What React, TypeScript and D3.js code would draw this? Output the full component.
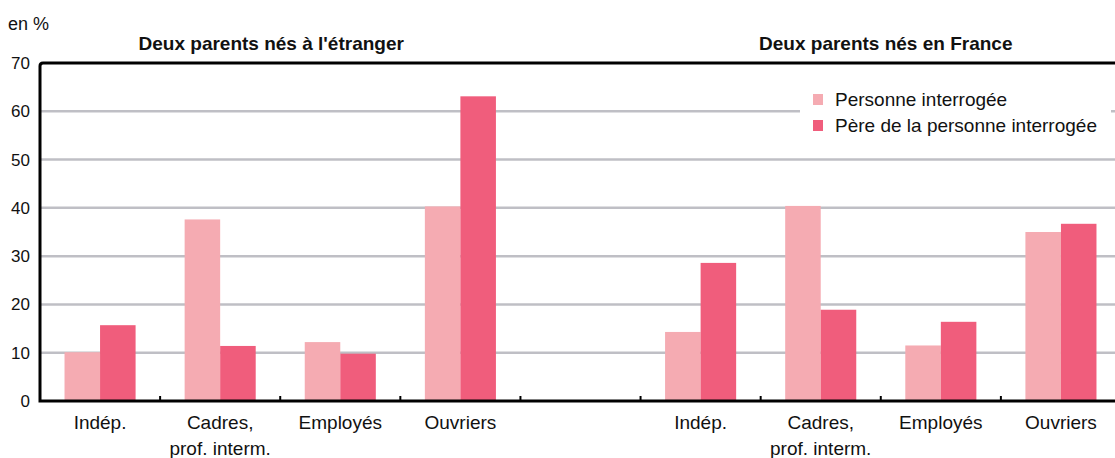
import { useEffect, useRef } from 'react';
import * as d3 from 'd3';

const categories = ['Indép.', 'Cadres,|prof. interm.', 'Employés', 'Ouvriers'];
const series = ['Personne interrogée', 'Père de la personne interrogée'];
const panels = ["Deux parents nés à l'étranger", 'Deux parents nés en France'];
// panel 1 : deux parents nés à l'étranger
const etrangerPersonne = [10.1, 37.6, 12.2, 40.3];
const etrangerPere = [15.7, 11.4, 9.8, 63.1];
// panel 2 : deux parents nés en France
const francePersonne = [14.3, 40.4, 11.5, 35.0];
const francePere = [28.6, 18.9, 16.4, 36.7];
const yTicks = [0, 10, 20, 30, 40, 50, 60, 70];

const COLORS = ['#f5abb2', '#f05d7c'];
const FONT = '"Liberation Sans", Arial, sans-serif';

export default function App() {
  const svgRef = useRef<SVGSVGElement>(null);

  useEffect(() => {
    const svg = d3.select(svgRef.current);
    svg.selectAll('*').remove();

    const W = 1115, H = 458;
    const left = 40, top = 63, bottom = 401, right = 1121;

    // 9 bands: 4 categories, an empty gap, 4 categories
    const keys = [...categories.map(c => 'e|' + c), 'gap', ...categories.map(c => 'f|' + c)];
    const x = d3.scaleBand<string>().domain(keys).range([left, right]).padding(0);
    const xs = d3.scaleBand<string>().domain(series).range([0, x.bandwidth()]).paddingInner(0).paddingOuter(0.69);
    const y = d3.scaleLinear().domain([0, 70]).range([bottom, top]);

    const rows: { key: string; s: string; v: number }[] = [];
    categories.forEach((c, i) => {
      rows.push({ key: 'e|' + c, s: series[0], v: etrangerPersonne[i] });
      rows.push({ key: 'e|' + c, s: series[1], v: etrangerPere[i] });
      rows.push({ key: 'f|' + c, s: series[0], v: francePersonne[i] });
      rows.push({ key: 'f|' + c, s: series[1], v: francePere[i] });
    });

    const g = svg.append('g').attr('font-family', FONT);

    // Grid lines
    yTicks.filter(t => t > 0 && t < 70).forEach(t => {
      g.append('line')
        .attr('x1', left).attr('x2', W)
        .attr('y1', y(t)).attr('y2', y(t))
        .attr('stroke', '#bfbfc5').attr('stroke-width', 2.5);
    });

    // Bars
    g.selectAll('rect.bar')
      .data(rows)
      .join('rect')
      .attr('class', 'bar')
      .attr('x', d => (x(d.key) ?? 0) + (xs(d.s) ?? 0))
      .attr('y', d => y(d.v))
      .attr('width', xs.bandwidth())
      .attr('height', d => y(0) - y(d.v))
      .attr('fill', d => (d.s === series[0] ? COLORS[0] : COLORS[1]));

    // Frame: left, top, bottom
    g.append('path')
      .attr('d', `M${W},${top} L${left + 3},${top} Q${left},${top} ${left},${top + 3} L${left},${bottom} L${W},${bottom}`)
      .attr('fill', 'none').attr('stroke', '#000').attr('stroke-width', 3);

    // Small ticks between bands
    keys.slice(1).forEach(k => {
      g.append('line')
        .attr('x1', x(k) ?? 0).attr('x2', x(k) ?? 0)
        .attr('y1', bottom).attr('y2', bottom - 5)
        .attr('stroke', '#000').attr('stroke-width', 2);
    });

    // Y tick labels
    yTicks.forEach(t => {
      g.append('text')
        .attr('x', 30).attr('y', y(t) + 6)
        .attr('text-anchor', 'end')
        .attr('font-size', 17).attr('fill', '#111')
        .text(t);
    });

    g.append('text')
      .attr('x', 8).attr('y', 30)
      .attr('font-size', 18).attr('fill', '#111')
      .text('en %');

    // Panel titles
    const panelCenters = [
      ((x(keys[0]) ?? 0) + (x(keys[3]) ?? 0) + x.bandwidth()) / 2 - 9,
      ((x(keys[5]) ?? 0) + (x(keys[8]) ?? 0) + x.bandwidth()) / 2 + 5,
    ];
    panels.forEach((p, i) => {
      g.append('text')
        .attr('x', panelCenters[i]).attr('y', 50)
        .attr('text-anchor', 'middle')
        .attr('font-size', 19).attr('font-weight', 'bold').attr('fill', '#111')
        .text(p);
    });

    // Category labels
    keys.filter(k => k !== 'gap').forEach(k => {
      const lines = k.split('|').slice(1);
      const cx = (x(k) ?? 0) + x.bandwidth() / 2;
      lines.forEach((l, j) => {
        g.append('text')
          .attr('x', cx).attr('y', 429 + j * 26)
          .attr('text-anchor', 'middle')
          .attr('font-size', 19).attr('fill', '#111')
          .text(l);
      });
    });

    // Legend
    const lg = g.append('g');
    lg.append('rect')
      .attr('x', 800).attr('y', 86).attr('width', 311).attr('height', 50)
      .attr('fill', '#fff');
    series.forEach((s, i) => {
      lg.append('rect')
        .attr('x', 813).attr('y', 94 + i * 26).attr('width', 10).attr('height', 11)
        .attr('fill', COLORS[i]);
      lg.append('text')
        .attr('x', 835).attr('y', 106 + i * 26)
        .attr('font-size', 19).attr('fill', '#111')
        .text(s);
    });

    svg.attr('width', W).attr('height', H);
  }, []);

  return (
    <svg
      ref={svgRef}
      width={1115}
      height={458}
      style={{ position: 'absolute', left: 0, top: 0, background: '#fff' }}
    />
  );
}
